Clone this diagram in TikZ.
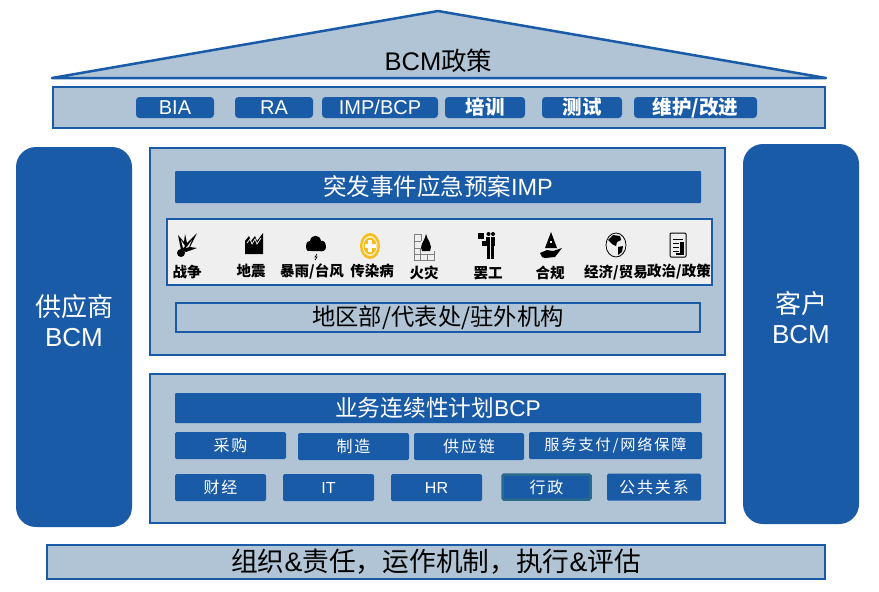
\documentclass[tikz,border=0pt]{standalone}
\usepackage{fontspec}
\setmainfont{Liberation Sans}
\newfontfamily\cjk{Noto Sans CJK SC}
\newfontfamily\cjkwide[LetterSpace=12]{Noto Sans CJK SC}
\newcommand{\zh}[1]{{\cjk #1}}
\newcommand{\fs}[1]{\fontsize{#1}{#1}\selectfont}
\usetikzlibrary{positioning}
\definecolor{bcmblue}{RGB}{26,91,168}
\definecolor{panelgray}{RGB}{176,196,214}
\definecolor{lightpanel}{RGB}{239,239,239}
\definecolor{tealedge}{RGB}{42,106,138}
\definecolor{plusgold}{RGB}{245,190,30}

\begin{document}
\begin{tikzpicture}[
        x=1pt, y=-1pt,
        every node/.style={inner sep=0pt, outer sep=0pt},
        panel/.style={rectangle, draw=bcmblue, line width=2.8pt, fill=panelgray},
        sidebox/.style={rectangle, fill=bcmblue, rounded corners=20pt, minimum width=116pt, minimum height=380pt},
        sidetext/.style={text=white, align=center, font=\fs{26}},
        tabbtn/.style={rectangle, fill=bcmblue, rounded corners=3.5pt, minimum height=21pt, text=white, font=\fs{20}},
        titlebar/.style={rectangle, fill=bcmblue, minimum width=526pt, text=white, rounded corners=1pt},
        smallbtn/.style={rectangle, fill=bcmblue, rounded corners=1.5pt, minimum height=27pt, text=white, font=\fs{16}\cjkwide},
        risk/.style={font=\fs{14.5}\cjk\bfseries}
    ]
        \useasboundingbox (0,0) rectangle (879,592);

        % roof and top band
        \coordinate (roofl) at (52,78);
        \coordinate (roofr) at (826,78);
        \coordinate (roofp) at (438,11);
        \draw[bcmblue, line width=2.5pt, fill=panelgray, line join=round] (roofl) -- (roofp) -- (roofr) -- cycle;
        \node[font=\fs{25.5}] (policy) at (438.5,61) {BCM\zh{政策}};
        \node[panel, minimum width=772pt, minimum height=41pt] (band) at (439,107.5) {};
        \node[tabbtn, minimum width=78pt] (bia) at (175,107.5) {BIA};
        \node[tabbtn, minimum width=78pt, right=21pt of bia] (ra) {RA};
        \node[tabbtn, minimum width=116pt, right=9pt of ra] (impbcp) {IMP/BCP};
        \node[tabbtn, minimum width=80pt, right=7pt of impbcp] (train) {\zh{\bfseries\fs{19.5}培训}};
        \node[tabbtn, minimum width=80pt, right=17pt of train] (drill) {\zh{\bfseries\fs{19.5}测试}};
        \node[tabbtn, minimum width=123pt, right=12pt of drill] (maint) {\zh{\bfseries\fs{19.5}维护/改进}};

        % side columns
        \node[sidebox] (supplier) at (74,337) {};
        \node[sidebox] (customer) at (801,334) {};
        \node[sidetext] (supplierlab) at (74,321) {\zh{供应商}\\[4pt]BCM};
        \node[sidetext] (customerlab) at (801,318) {\zh{客户}\\[4pt]BCM};

        % IMP panel
        \node[panel, minimum width=575pt, minimum height=207pt] (imp) at (437.5,251.5) {};
        \node[titlebar, minimum height=32pt, font=\fs{23.5}] (imptitle) at (438,187) {\zh{突发事件应急预案}IMP};
        \node[panel, fill=lightpanel, minimum width=545pt, minimum height=66pt] (risks) at (439.5,252) {};
        \node[panel, minimum width=524pt, minimum height=29pt, font=\fs{23.3}\cjk] (regions) at (438,317.5) {地区部/代表处/驻外机构};

        \node[risk] (war) at (187,272) {战争};
        \node[risk] (quake) at (251,271) {地震};
        \node[risk] (storm) at (312,271) {暴雨/台风};
        \node[risk] (flu) at (372,271) {传染病};
        \node[risk] (fire) at (424,273) {火灾};
        \node[risk] (strike) at (488,273) {罢工};
        \node[risk] (comply) at (550,273) {合规};
        \node[risk] (trade) at (616,273) {经济/贸易};
        \node[risk] (politics) at (679,272) {政治/政策};

        % risk icons
        \begin{scope}[shift={(187,245)}]
            \fill (-6,8) circle (4);
            \fill (-6,5) -- (-9,-10) -- (-3,-3) -- (-2,-11) -- (0,-2) -- (10,-12) -- (3,2) -- (10,3) -- (-1,7) -- cycle;
            \fill[lightpanel] (-4,3) -- (-6,-5) -- (-2,1) -- cycle;
            \fill[lightpanel] (-1,3) -- (5,-5) -- (2,2) -- cycle;
        \end{scope}
        \begin{scope}[shift={(254,244)}]
            \fill (-9,10) -- (-9,-3) -- (-5,-8) -- (-3,-3) -- (1,-8) -- (3,-3) -- (9,-11) -- (9,10) -- cycle;
            \draw[lightpanel, line width=0.8pt] (-7,-1) -- (-4,-5) -- (-2,0) -- (1,-5) -- (3,0) -- (7,-6);
        \end{scope}
        \begin{scope}[shift={(316,245)}]
            \fill (-10,2) .. controls (-10,-4) and (-7,-4) .. (-6,-4) .. controls (-5,-11) and (4,-11) .. (5,-4) .. controls (8,-5) and (10,-2) .. (10,2) .. controls (10,6) and (6,7) .. (4,6) -- (-5,6) .. controls (-7,7) and (-10,6) .. (-10,2) -- cycle;
            \draw[line width=0.7pt] (1,9) -- (-1,12) -- (1,12) -- (-1,15);
        \end{scope}
        \begin{scope}[shift={(370,246)}]
            \fill[plusgold] (0,0) ellipse (10 and 13);
            \fill[white!85!plusgold] (0,0) ellipse (7.5 and 10);
            \fill[plusgold] (0,0) ellipse (6.5 and 8.5);
            \fill[white] (-1.8,-6) rectangle (1.8,6);
            \fill[white] (-5.5,-2) rectangle (5.5,2);
        \end{scope}
        \begin{scope}[shift={(424,246)}]
            \draw[gray, line width=0.7pt] (-10,-12) -- (-3,-12) (-10,-12) -- (-10,14) -- (10,14) -- (10,5) (-10,-5) -- (-3,-5) (-10,2) -- (-2,2) (-10,8) -- (10,8) (-3,-12) -- (-3,-5) (-4,2) -- (-4,14) (3,8) -- (3,14);
            \fill (-2,5) .. controls (-5,-1) and (0,-3) .. (2,-12) .. controls (3,-6) and (9,-2) .. (6,5) -- cycle;
        \end{scope}
        \begin{scope}[shift={(487,245)}]
            \fill (-9,-12) rectangle (-3,-6);
            \fill (-5,-4) rectangle (-1,1);
            \fill (-1.5,-8) rectangle (8,1);
            \fill (0,1) rectangle (3,14);
            \fill (4,1) rectangle (7,14);
            \fill (1.5,-11) circle (2);
            \fill (6,-11) circle (2);
            \draw[lightpanel, line width=0.7pt] (3.5,-8) -- (3.5,14);
        \end{scope}
        \begin{scope}[shift={(551,245)}]
            \fill (0,-13) -- (6,3) -- (-6,3) -- cycle;
            \fill[lightpanel] (-1,-4) rectangle (1,-2);
            \fill (-11,8) -- (-4,5) -- (2,6) -- (11,3) -- (4,12) -- (-6,13) -- (-9,12) -- cycle;
        \end{scope}
        \begin{scope}[shift={(616,245)}]
            \draw[line width=0.8pt] (0,0) ellipse (10 and 12);
            \fill (-8,-5) -- (-3,-10) -- (4,-9) -- (5,-5) -- (1,-3) -- (0,1) -- (-4,-1) -- cycle;
            \fill (2,2) -- (7,1) -- (6,7) -- (2,10) -- cycle;
        \end{scope}
        \begin{scope}[shift={(678,245)}]
            \draw[line width=1pt, rounded corners=1pt, fill=lightpanel] (-8,-12) rectangle (8,12);
            \draw[line width=1pt] (-5,-6) -- (5,-6) (-5,-2) -- (1,-2) (-5,2) -- (1,2) (-5,6) -- (1,6);
            \fill (2,-3) rectangle (6,9);
            \fill (-2,8) rectangle (6,10);
        \end{scope}

        % BCP panel
        \node[panel, minimum width=575pt, minimum height=149pt] (bcp) at (437.5,448.5) {};
        \node[titlebar, minimum height=30pt, font=\fs{22.7}] (bcptitle) at (438,408) {\zh{业务连续性计划}BCP};
        \node[smallbtn, minimum width=111pt] (buy) at (230.5,445.5) {采购};
        \node[smallbtn, minimum width=111pt] (make) at (353.5,446.5) {制造};
        \node[smallbtn, minimum width=110pt] (chain) at (469,446.5) {供应链};
        \node[smallbtn, minimum width=173pt, font=\fs{15.2}\cjkwide] (service) at (615.5,445.5) {服务支付/网络保障};
        \node[smallbtn, minimum width=91pt] (finance) at (220.5,487.5) {财经};
        \node[smallbtn, minimum width=91pt, right=17pt of finance, font=\fs{16}] (it) {IT};
        \node[smallbtn, minimum width=91pt, right=17pt of it, font=\fs{16}] (hr) {HR};
        \node[smallbtn, minimum width=88pt, minimum height=25pt, draw=tealedge, line width=2.5pt] (admin) at (546.5,487) {行政};
        \node[smallbtn, minimum width=94pt] (pr) at (654,487) {公共关系};

        % bottom band
        \node[panel, minimum width=778pt, minimum height=34pt, font=\fs{26.7}] (base) at (436,562) {\zh{组织}\&\zh{责任，运作机制，执行}\&\zh{评估}};
    \end{tikzpicture}
\end{document}
